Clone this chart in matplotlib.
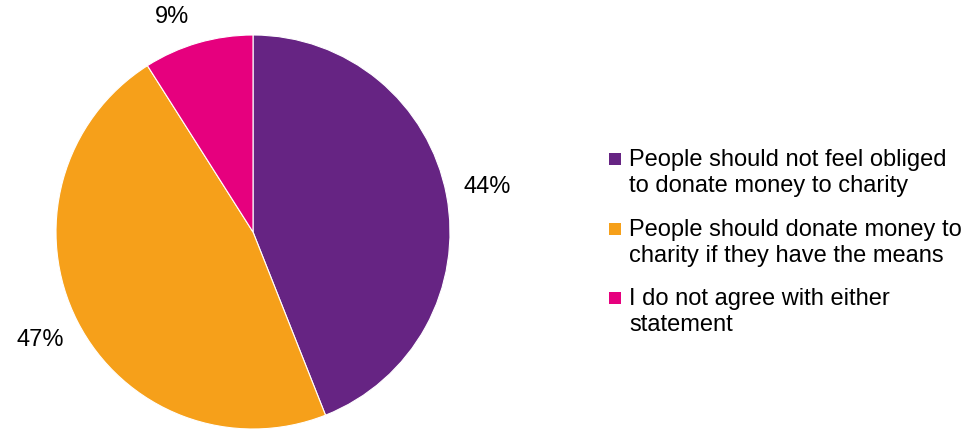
import matplotlib.pyplot as plt
from matplotlib.patches import Rectangle

# datos del grafico
categorias = ['People should not feel obliged\nto donate money to charity',
              'People should donate money to\ncharity if they have the means',
              'I do not agree with either\nstatement']
valores = [44, 47, 9]
colores = ['#662483', '#F6A01A', '#E6007E']

plt.rcParams['font.family'] = ['Liberation Sans', 'DejaVu Sans']

fig = plt.figure(figsize=(9.68, 4.3), dpi=100)
W, H = 968, 430

# pie: centro (253,232), radio 197 px
cx, cy, r = 253, 232, 197
ax = fig.add_axes([(cx - r) / W, (H - cy - r) / H, 2 * r / W, 2 * r / H])
wedges, textos, pcts = ax.pie(valores, colors=colores, startangle=90, counterclock=False,
                              autopct='%.0f%%', pctdistance=1.21,
                              wedgeprops={'linewidth': 0.8, 'edgecolor': 'white'})
for t in pcts:
    t.set_fontsize(17)
    t.set_color('#000000')
# la etiqueta chica va un poco mas adentro para que no se corte
pcts[2].set_position((-0.41, 1.09))
ax.set_aspect('auto')
ax.set_xlim(-1, 1)
ax.set_ylim(-1, 1)
ax.axis('off')

# leyenda manual
bases = [166, 236, 305]
for cat, col, b in zip(categorias, colores, bases):
    fig.patches.append(Rectangle((609 / W, (H - b + 1) / H), 12 / W, 12 / H,
                                 transform=fig.transFigure, facecolor=col, edgecolor='none'))
    lineas = cat.split('\n')
    fig.text(629 / W, (H - b) / H, lineas[0], fontsize=17, va='baseline', ha='left')
    fig.text(629 / W, (H - b - 26) / H, lineas[1], fontsize=17, va='baseline', ha='left')

fig.savefig('out.png', dpi=100)
